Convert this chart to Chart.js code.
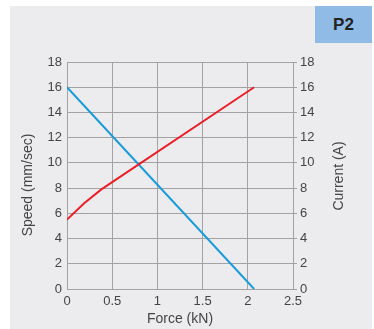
<!DOCTYPE html>
<html>
<head>
<meta charset="utf-8">
<script src="https://cdn.jsdelivr.net/npm/chart.js@4"></script>
<style>
  html, body { margin: 0; padding: 0; background: #ffffff; width: 374px; height: 329px; overflow: hidden; }
  #panel { position: absolute; left: 10px; top: 6px; width: 362px; height: 323px; background: #ececee; }
  #tag { position: absolute; left: 315px; top: 6px; width: 57px; height: 37px; background: #8fbbe6;
         color: #222; font: bold 17px "Liberation Sans", Arial, sans-serif; line-height: 37px; text-align: center; }
  #c { position: absolute; left: 0; top: 0; }
</style>
</head>
<body>
<div id="panel"></div>
<div id="tag">P2</div>
<canvas id="c" width="374" height="329"></canvas>
<script>
// Data
const speedForce = [0, 2.07];           // kN
const speedValues = [16, 0];            // mm/sec
const currentForce = [0, 0.19, 0.38, 2.07];  // kN
const currentValues = [5.5, 6.8, 7.9, 16];   // A
const xTicks = [0, 0.5, 1, 1.5, 2, 2.5];
const yTicks = [0, 2, 4, 6, 8, 10, 12, 14, 16, 18];

const xTitle = 'Force (kN)';
const leftTitle = 'Speed (mm/sec)';
const rightTitle = 'Current (A)';

const FONT = '"Liberation Sans", Arial, sans-serif';
const GRID = '#a3a3a3';
const TXT = '#444444';

const toXY = (xs, ys) => xs.map((x, i) => ({ x: x, y: ys[i] }));

const titlePlugin = {
  id: 'vTitles',
  afterDraw(chart) {
    const ctx = chart.ctx;
    ctx.save();
    ctx.fillStyle = TXT;
    ctx.font = '14px ' + FONT;
    ctx.textAlign = 'center';
    ctx.textBaseline = 'middle';
    ctx.translate(28, 185);
    ctx.rotate(-Math.PI / 2);
    ctx.fillText(leftTitle, 0, 0);
    ctx.restore();
    ctx.save();
    ctx.fillStyle = TXT;
    ctx.font = '14px ' + FONT;
    ctx.textAlign = 'center';
    ctx.textBaseline = 'middle';
    ctx.translate(339, 176);
    ctx.rotate(-Math.PI / 2);
    ctx.fillText(rightTitle, 0, 0);
    ctx.restore();
  }
};

new Chart(document.getElementById('c'), {
  type: 'scatter',
  data: {
    datasets: [
      {
        label: 'Current',
        data: toXY(currentForce, currentValues),
        yAxisID: 'yR',
        showLine: true,
        borderColor: '#e8202a',
        backgroundColor: '#e8202a',
        borderWidth: 2,
        pointRadius: 0,
        tension: 0
      },
      {
        label: 'Speed',
        data: toXY(speedForce, speedValues),
        yAxisID: 'y',
        showLine: true,
        borderColor: '#1a9bd7',
        backgroundColor: '#1a9bd7',
        borderWidth: 2,
        pointRadius: 0
      }
    ]
  },
  options: {
    responsive: false,
    animation: false,
    devicePixelRatio: 1,
    layout: { padding: { left: 0, right: 0, top: 62, bottom: 0 } },
    plugins: { legend: { display: false }, tooltip: { enabled: false } },
    scales: {
      x: {
        type: 'linear',
        min: 0, max: 2.5,
        afterBuildTicks: s => { s.ticks = xTicks.map(v => ({ value: v })); },
        afterFit: s => { s.height = 40; },
        grid: { color: GRID, lineWidth: 1, drawTicks: false },
        border: { color: GRID, width: 1 },
        ticks: { color: TXT, font: { family: FONT, size: 13 }, padding: 5, maxRotation: 0,
                 callback: v => String(v) },
        title: { display: true, text: xTitle, color: TXT, font: { family: FONT, size: 14 }, padding: { top: 0, bottom: 1 } }
      },
      y: {
        position: 'left',
        min: 0, max: 18,
        afterBuildTicks: s => { s.ticks = yTicks.map(v => ({ value: v })); },
        afterFit: s => { s.width = 67; },
        grid: { color: GRID, lineWidth: 1, drawTicks: false },
        border: { color: GRID, width: 1 },
        ticks: { color: TXT, font: { family: FONT, size: 13 }, padding: 5 }
      },
      yR: {
        position: 'right',
        min: 0, max: 18,
        afterBuildTicks: s => { s.ticks = yTicks.map(v => ({ value: v })); },
        afterFit: s => { s.width = 81; },
        grid: { drawOnChartArea: false, drawTicks: true, tickLength: 4, color: GRID, lineWidth: 1 },
        border: { color: GRID, width: 1 },
        ticks: { color: TXT, font: { family: FONT, size: 13 }, padding: 3 }
      }
    }
  },
  plugins: [titlePlugin]
});
</script>
</body>
</html>
